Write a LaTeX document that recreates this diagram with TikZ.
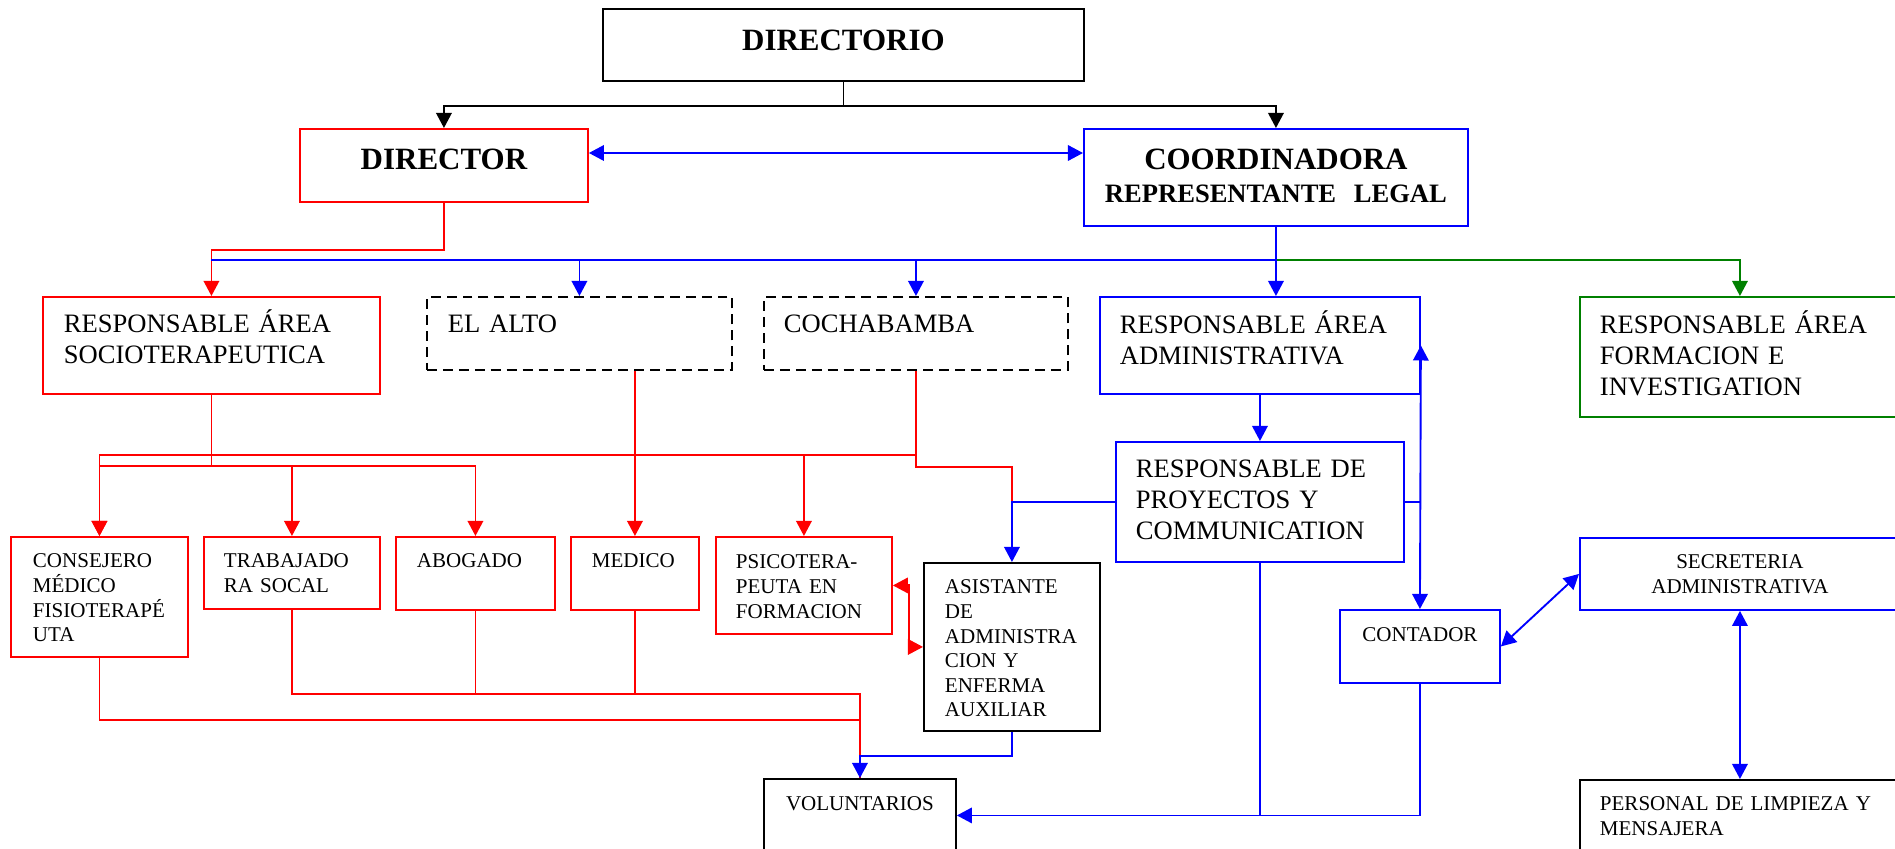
\documentclass[tikz,border=0pt]{standalone}
\usepackage{fontspec}
\setmainfont{Liberation Serif}
\usepackage{tikz}
\usetikzlibrary{arrows.meta}
\definecolor{grn}{RGB}{0,128,0}
\newcommand\px{0.4518pt}
\hyphenpenalty=10000

\begin{document}
\begin{tikzpicture}[x=\px, y=-\px, line width=0.85pt,
        >={Triangle[length=6.8pt,width=7pt]},
        box/.style={draw, anchor=north west, inner ysep=0pt, align=left,
            font=\fontsize{12}{13.8}\selectfont},
        geom/.style n args={4}{inner xsep=#1*\px, text width=(#2-2*#1)*\px,
            text height=#3*\px, text depth=(#4-#3)*\px},
        smalltxt/.style={font=\fontsize{9.5}{11.1}\selectfont},
        bigtxt/.style={font=\fontsize{14}{16}\selectfont\bfseries},
        redbox/.style={box, draw=red},
        bluebox/.style={box, draw=blue},
        dashbox/.style={box, dash pattern=on 4.5pt off 2.7pt}]
        \useasboundingbox (0,0) rectangle (1895,849);
        \clip (0,0) rectangle (1895,849);

        \node[box, bigtxt, align=center, geom={5}{481}{42}{72}] (dirio) at (602,8) {DIRECTORIO};
        \node[redbox, bigtxt, align=center, geom={5}{288}{41}{73}] (dtor) at (299,128) {DIRECTOR};
        \node[bluebox, align=center, font=\fontsize{12}{14.5}\selectfont\bfseries, geom={5}{384}{41}{97}] (coord) at (1083,128)
            {{\fontsize{14}{16}\selectfont COORDINADORA}\\REPRESENTANTE\ \ LEGAL};

        \node[redbox, geom={21}{337}{36}{97}] (socio) at (42,296) {RESPONSABLE ÁREA\\SOCIOTERAPEUTICA};
        \node[dashbox, geom={21}{305}{36}{73}] (alto) at (426,296) {EL ALTO};
        \node[dashbox, geom={20}{304}{36}{73}] (cocha) at (763,296) {COCHABAMBA};
        \node[bluebox, geom={20}{320}{37}{97}] (admin) at (1099,296) {RESPONSABLE ÁREA\\ADMINISTRATIVA};
        \node[box, draw=grn, geom={20}{320}{37}{120}] (form) at (1579,296) {RESPONSABLE ÁREA\\FORMACION E\\INVESTIGATION};

        \node[redbox, smalltxt, geom={22}{177}{31}{120}] (cons) at (10,536) {CONSEJERO\\MÉDICO\\FISIOTERAPÉ\\UTA};
        \node[redbox, smalltxt, geom={20}{176}{31}{72}] (trab) at (203,536) {TRABAJADO\\RA SOCAL};
        \node[redbox, smalltxt, geom={21}{159}{31}{73}] (abog) at (395,536) {ABOGADO};
        \node[redbox, smalltxt, geom={21}{128}{31}{73}] (medico) at (570,536) {MEDICO};
        \node[redbox, smalltxt, geom={20}{176}{32}{97}] (psico) at (715,536) {PSICOTERA-\\PEUTA EN\\FORMACION};
        \node[box, smalltxt, geom={21}{176}{31}{168}] (asist) at (923,562) {ASISTANTE\\DE\\ADMINISTRA\\CION Y\\ENFERMA\\AUXILIAR};
        \node[bluebox, geom={20}{288}{36}{120}] (proy) at (1115,441) {RESPONSABLE DE\\PROYECTOS Y\\COMMUNICATION};
        \node[box, smalltxt, align=center, geom={5}{192}{32}{73}] (volun) at (763,778) {VOLUNTARIOS};
        \node[bluebox, smalltxt, align=center, geom={5}{160}{32}{73}] (cont) at (1339,609) {CONTADOR};
        \node[bluebox, smalltxt, align=center, geom={5}{320}{31}{72}] (secret) at (1579,537) {SECRETERIA\\ADMINISTRATIVA};
        \node[box, smalltxt, geom={20}{320}{31}{73}] (pers) at (1579,779) {PERSONAL DE LIMPIEZA Y\\MENSAJERA};

        \draw[->] (dirio.south) -- ++(0,24) coordinate (dj) -| (dtor.north);
        \draw[->] (dj) -| (coord.north);
        \draw[<->, blue] (dtor.east |- 0,153) -- (coord.west |- 0,153);

        \coordinate (bus) at (coord.south |- 0,260);
        \draw[->, grn] (bus) -| (form.north);
        \draw[->, red] (dtor.south) -- ++(0,47) -| (socio.north);
        \draw[blue] (bus) -- (bus -| socio.north);
        \draw[->, blue] (coord.south) -- (coord.south |- admin.north);
        \draw[->, blue] (bus -| alto.north) -- (alto.north);
        \draw[->, blue] (bus -| cocha.north) -- (cocha.north);

        \draw[red] (socio.south) -- ++(0,71) coordinate (sj);
        \draw[->, red] (sj) -| (cons.north);
        \draw[->, red] (sj) -| (trab.north);
        \draw[->, red] (sj) -| (abog.north);
        \draw[red] (cocha.south) -- ++(0,84) coordinate (cj);
        \draw[->, red] (cj) -| (cons.north);
        \draw[->, red] (cj -| psico.north) -- (psico.north);
        \draw[red] (cj) -- ++(0,12) -| (asist.north |- proy.west);
        \draw[->, red] (medico.north |- alto.south) -- (medico.north);
        \draw[<->, red] (psico.east) -- ++(16,0) |- (asist.west);

        \draw[->, blue] (admin.south -| proy.south) -- (proy.north);
        \draw[->, blue] (proy.west) -| (asist.north);
        \draw[blue] (proy.east) -- (proy.east -| cont.north);
        \draw[<->, blue] (admin.east) -- (cont.north);

        \draw[red] (cons.south) -- ++(0,62) -| (volun.north);
        \draw[red] (trab.south) -- ++(0,84) coordinate (tj) -| (volun.north);
        \draw[red] (abog.south) -- (abog.south |- tj);
        \draw[red] (medico.south) -- (medico.south |- tj);
        \draw[->, blue] (asist.south) -- ++(0,24) -| (volun.north);
        \draw[->, blue] (proy.south) |- (volun.east);
        \draw[blue] (cont.south) |- (proy.south |- volun.east);
        \draw[<->, blue] (cont.east) -- (secret.west);
        \draw[<->, blue] (secret.south) -- (pers.north);
    \end{tikzpicture}
\end{document}
